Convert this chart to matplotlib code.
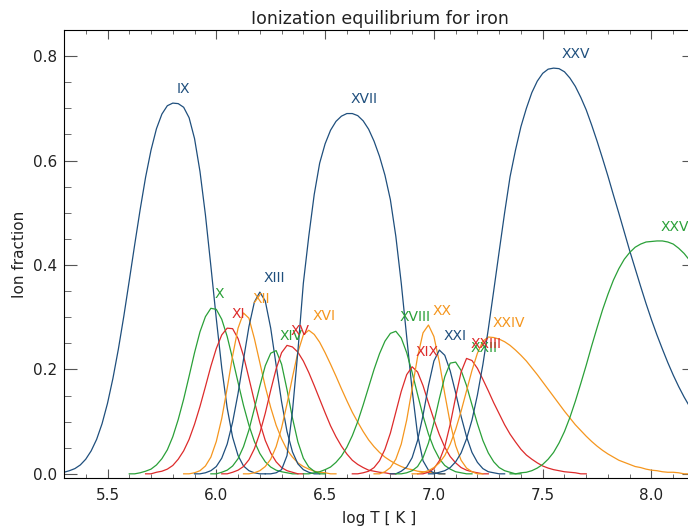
import numpy as np
import matplotlib
matplotlib.use("Agg")
import matplotlib.pyplot as plt
from matplotlib.ticker import MultipleLocator

# ion fractions tabulated every 0.025 in log T, each list starting at ion_start
step = 0.025
ion_labels = ["IX", "X", "XI", "XII", "XIII", "XIV", "XV", "XVI", "XVII", "XVIII",
              "XIX", "XX", "XXI", "XXII", "XXIII", "XXIV", "XXV", "XXVI"]
ion_start = [5.300, 5.600, 5.675, 5.850, 5.900, 5.975, 6.025, 6.125, 6.225,
             6.400, 6.625, 6.725, 6.800, 6.825, 6.925, 6.900, 6.975, 7.350]

fe_ix = [0.003, 0.006, 0.010, 0.017, 0.028, 0.044, 0.066, 0.096, 0.135, 0.183, 0.239, 0.302,
         0.370, 0.439, 0.506, 0.568, 0.620, 0.661, 0.689, 0.705, 0.710, 0.709, 0.702, 0.682,
         0.642, 0.579, 0.496, 0.398, 0.297, 0.203, 0.126, 0.070, 0.035, 0.015, 0.006, 0.002, 0, 0]
fe_x = [0, 0, 0.002, 0.005, 0.009, 0.017, 0.029, 0.046, 0.071, 0.104, 0.143, 0.187, 0.232, 0.272,
        0.301, 0.317, 0.315, 0.296, 0.263, 0.220, 0.175, 0.131, 0.093, 0.062, 0.039, 0.023,
        0.013, 0.007, 0.004, 0.002, 0, 0]
fe_xi = [0, 0, 0.003, 0.005, 0.009, 0.016, 0.028, 0.044, 0.066, 0.095, 0.129, 0.167, 0.206, 0.240,
         0.266, 0.279, 0.278, 0.259, 0.226, 0.183, 0.139, 0.098, 0.064, 0.040, 0.023, 0.012,
         0.006, 0.003, 0, 0]
fe_xii = [0, 0, 0.002, 0.006, 0.015, 0.032, 0.062, 0.106, 0.164, 0.226, 0.279, 0.308, 0.298, 0.259,
          0.213, 0.167, 0.127, 0.093, 0.067, 0.046, 0.032, 0.021, 0.014, 0.009, 0.005, 0.003,
          0.002, 0, 0]
fe_xiii = [0, 0, 0.002, 0.006, 0.014, 0.030, 0.057, 0.099, 0.154, 0.219, 0.282, 0.329, 0.348, 0.331,
           0.279, 0.208, 0.138, 0.081, 0.042, 0.019, 0.008, 0.003, 0, 0]
fe_xiv = [0, 0, 0.003, 0.007, 0.015, 0.029, 0.052, 0.084, 0.125, 0.168, 0.207, 0.231, 0.236, 0.210,
          0.161, 0.107, 0.061, 0.030, 0.013, 0.005, 0, 0]
fe_xv = [0, 0, 0.003, 0.007, 0.014, 0.027, 0.048, 0.078, 0.116, 0.160, 0.201, 0.232, 0.246, 0.243,
         0.233, 0.216, 0.194, 0.169, 0.143, 0.117, 0.092, 0.071, 0.053, 0.038, 0.026, 0.018,
         0.012, 0.007, 0.005, 0.003, 0.002, 0, 0]
fe_xvi = [0, 0, 0.002, 0.006, 0.014, 0.028, 0.052, 0.088, 0.134, 0.185, 0.233, 0.266, 0.275, 0.267,
          0.252, 0.232, 0.210, 0.187, 0.163, 0.140, 0.118, 0.099, 0.081, 0.065, 0.052, 0.041,
          0.032, 0.025, 0.019, 0.014, 0.010, 0.008, 0.005, 0.004, 0.003, 0.002, 0, 0]
fe_xvii = [0, 0, 0.002, 0.008, 0.035, 0.120, 0.235, 0.365, 0.455, 0.535, 0.595, 0.632, 0.658, 0.675,
           0.685, 0.690, 0.690, 0.686, 0.676, 0.660, 0.637, 0.608, 0.572, 0.525, 0.455, 0.365,
           0.262, 0.160, 0.075, 0.025, 0.007, 0.002, 0, 0]
fe_xviii = [0, 0, 0.002, 0.004, 0.008, 0.013, 0.022, 0.034, 0.051, 0.073, 0.100, 0.132, 0.166, 0.200,
            0.230, 0.254, 0.269, 0.273, 0.260, 0.232, 0.194, 0.152, 0.111, 0.076, 0.049, 0.029,
            0.016, 0.009, 0.004, 0.002, 0, 0]
fe_xix = [0, 0, 0.002, 0.005, 0.012, 0.025, 0.047, 0.078, 0.118, 0.158, 0.190, 0.205, 0.195, 0.169,
          0.136, 0.104, 0.075, 0.051, 0.033, 0.021, 0.012, 0.007, 0.004, 0.002, 0, 0]
fe_xx = [0, 0, 0.004, 0.012, 0.028, 0.057, 0.103, 0.163, 0.224, 0.270, 0.285, 0.263, 0.214, 0.153,
         0.097, 0.054, 0.026, 0.011, 0.004, 0, 0]
fe_xxi = [0, 0, 0.005, 0.013, 0.031, 0.064, 0.112, 0.169, 0.216, 0.237, 0.227, 0.197, 0.155, 0.110,
          0.071, 0.041, 0.022, 0.010, 0.004, 0.002, 0, 0]
fe_xxii = [0, 0, 0.002, 0.006, 0.014, 0.031, 0.059, 0.098, 0.144, 0.186, 0.212, 0.214, 0.198, 0.169,
           0.132, 0.096, 0.064, 0.040, 0.023, 0.012, 0.006, 0.003, 0, 0]
fe_xxiii = [0, 0, 0.003, 0.010, 0.025, 0.052, 0.095, 0.147, 0.195, 0.221, 0.217, 0.202, 0.181, 0.159,
            0.136, 0.115, 0.094, 0.076, 0.061, 0.047, 0.036, 0.028, 0.021, 0.015, 0.011, 0.008,
            0.006, 0.004, 0.003, 0.002, 0, 0]
fe_xxiv = [0, 0, 0.003, 0.006, 0.012, 0.021, 0.035, 0.057, 0.085, 0.120, 0.159, 0.198, 0.231, 0.254,
           0.262, 0.261, 0.258, 0.253, 0.246, 0.237, 0.227, 0.216, 0.203, 0.190, 0.176, 0.162,
           0.148, 0.134, 0.120, 0.107, 0.094, 0.083, 0.072, 0.062, 0.053, 0.045, 0.038, 0.032,
           0.026, 0.022, 0.018, 0.014, 0.012, 0.009, 0.007, 0.006, 0.004, 0.003, 0.003, 0.002, 0, 0]
fe_xxv = [0, 0, 0.003, 0.006, 0.012, 0.023, 0.040, 0.067, 0.103, 0.151, 0.209, 0.277, 0.351, 0.426,
          0.500, 0.569, 0.620, 0.665, 0.700, 0.730, 0.752, 0.767, 0.775, 0.777, 0.776, 0.770,
          0.758, 0.742, 0.721, 0.697, 0.668, 0.637, 0.604, 0.570, 0.534, 0.499, 0.463, 0.427,
          0.393, 0.359, 0.326, 0.295, 0.266, 0.239, 0.213, 0.189, 0.167, 0.147, 0.129, 0.112]
fe_xxvi = [0, 0, 0.002, 0.003, 0.006, 0.011, 0.018, 0.028, 0.041, 0.059, 0.081, 0.108, 0.139, 0.173,
           0.208, 0.245, 0.280, 0.314, 0.344, 0.371, 0.393, 0.411, 0.424, 0.434, 0.440, 0.444,
           0.445, 0.446, 0.446, 0.444, 0.440, 0.432, 0.422, 0.409, 0.394]

fractions = [fe_ix, fe_x, fe_xi, fe_xii, fe_xiii, fe_xiv, fe_xv, fe_xvi, fe_xvii, fe_xviii,
             fe_xix, fe_xx, fe_xxi, fe_xxii, fe_xxiii, fe_xxiv, fe_xxv, fe_xxvi]

colors = ["#1f4f7d", "#2aa038", "#dd2b2b", "#f5961e"]
label_nudge = {"XII": 0.025, "XXII": 0.05, "XXV": 0.02}

fig = plt.figure(figsize=(6.88, 5.31), dpi=100)
# right edge of the plot runs just past the picture, as in the original
ax = fig.add_axes([0.093, 0.0998, 0.9172, 0.8437])

for i, (name, t0, vals) in enumerate(zip(ion_labels, ion_start, fractions)):
    frac = np.array(vals)
    t = t0 + step * np.arange(len(frac))
    c = colors[i % 4]
    ax.plot(t, frac, color=c, lw=0.9)
    k = np.argmax(frac)
    ax.text(t[k] + 0.018 + label_nudge.get(name, 0), frac[k] + 0.02, name, color=c, fontsize=10)

ax.set_xlim(5.3, 8.2)
ax.set_ylim(-0.008, 0.85)
ax.xaxis.set_major_locator(MultipleLocator(0.5))
ax.xaxis.set_minor_locator(MultipleLocator(0.1))
ax.yaxis.set_major_locator(MultipleLocator(0.2))
ax.yaxis.set_minor_locator(MultipleLocator(0.05))
ax.tick_params(which="both", direction="in", top=True, right=True, color="#555555",
               labelsize=11, labelcolor="#222222")
ax.tick_params(axis="x", which="major", length=6.5, pad=7)
ax.tick_params(axis="x", which="minor", length=3)
ax.tick_params(axis="y", which="major", length=9.5, pad=5)
ax.tick_params(axis="y", which="minor", length=5)

ax.set_title("Ionization equilibrium for iron", fontsize=12.5, color="#222222", pad=4)
ax.set_xlabel("log T [ K ]", fontsize=11, color="#222222", labelpad=6)
ax.set_ylabel("Ion fraction", fontsize=11, color="#222222")

fig.savefig("out.png")
plt.close(fig)
